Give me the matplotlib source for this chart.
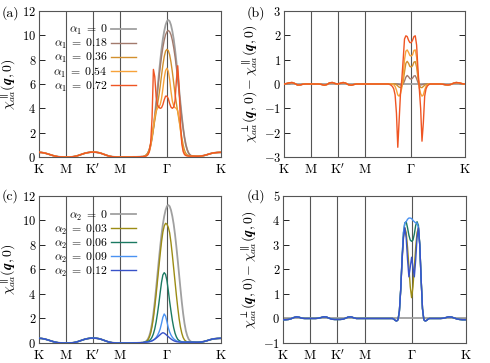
import numpy as np
import matplotlib
matplotlib.use("Agg")
import matplotlib.pyplot as plt

plt.rcParams['font.family'] = 'serif'
plt.rcParams['font.serif'] = ['cmr10', 'DejaVu Serif']
plt.rcParams['mathtext.fontset'] = 'cm'
plt.rcParams['axes.formatter.use_mathtext'] = True
plt.rcParams['font.size'] = 8

# high-symmetry path K-M-K'-M-Gamma-K (|Gamma K| = 1)
path_ticks = [0.0, 0.5, 1.0, 1.5, 2.366, 3.366]
path_labels = [r'$\mathrm{K}$', r'$\mathrm{M}$', r"$\mathrm{K}'$", r'$\mathrm{M}$', r'$\Gamma$', r'$\mathrm{K}$']
gamma = 2.366

# sampling: left part, peak part (offset from Gamma), right part
x_left = np.arange(0, 1.9001, 0.05)
d_peak = np.arange(-0.45, 0.4501, 0.025)
x_right = np.array([2.85, 2.9, 2.95, 3.0, 3.05, 3.1, 3.15, 3.2, 3.25, 3.3, 3.35, 3.366])

# ---- chi parallel, away from Gamma (all curves nearly equal)
par_left = [0.38, 0.37, 0.33, 0.27, 0.2, 0.13, 0.07, 0.03, 0.01, 0.0, 0.0, 0.0, 0.01, 0.04, 0.09,
            0.16, 0.24, 0.31, 0.36, 0.39, 0.4, 0.39, 0.36, 0.3, 0.22, 0.14, 0.07, 0.03, 0.01, 0.0,
            0.0, 0.0, 0.0, 0.0, 0.0, 0.01, 0.01, 0.02, 0.03]
par_right = [0.07, 0.06, 0.06, 0.08, 0.12, 0.18, 0.25, 0.31, 0.35, 0.37, 0.38, 0.38]

# ---- chi parallel near Gamma, d = -0.45 ... 0.45
par_a1_000 = [0.03, 0.05, 0.1, 0.18, 0.33, 0.6, 1.0, 1.6, 2.4, 3.35, 4.45, 5.6, 6.75, 7.85, 8.85, 9.7,
              10.35, 10.85, 11.16, 11.26, 11.16, 10.85, 10.35, 9.7, 8.85, 7.85, 6.75, 5.6, 4.45, 3.35,
              2.4, 1.6, 1.0, 0.6, 0.33, 0.18, 0.1]
par_a1_018 = [0.03, 0.05, 0.1, 0.18, 0.33, 0.6, 1.0, 1.6, 2.35, 3.25, 4.25, 5.3, 6.35, 7.35, 8.25, 9.0,
              9.6, 10.05, 10.3, 10.4, 10.3, 10.05, 9.6, 9.0, 8.25, 7.35, 6.35, 5.3, 4.25, 3.25, 2.35,
              1.6, 1.0, 0.6, 0.33, 0.18, 0.1]
par_a1_036 = [0.03, 0.05, 0.1, 0.2, 0.35, 0.65, 1.1, 1.7, 2.35, 3.0, 3.65, 4.3, 5.0, 5.8, 6.7, 7.55,
              8.25, 8.7, 8.85, 8.75, 8.4, 7.8, 7.0, 6.1, 5.2, 4.4, 3.7, 3.0, 2.3, 1.6, 1.0, 0.55, 0.3,
              0.18, 0.12, 0.09, 0.08]
par_a1_054 = [0.03, 0.05, 0.08, 0.12, 0.22, 0.45, 0.9, 1.6, 2.5, 3.3, 3.8, 4.0, 4.1, 4.3, 4.8, 5.6,
              6.5, 7.1, 7.3, 7.05, 6.4, 5.4, 4.6, 4.2, 4.05, 4.0, 3.8, 3.2, 2.2, 1.3, 0.65, 0.3, 0.15,
              0.1, 0.08, 0.07, 0.07]
par_a1_072 = [0.03, 0.04, 0.06, 0.1, 0.2, 0.45, 1.2, 3.2, 7.2, 6.6, 5.0, 4.3, 4.1, 4.0, 4.05, 4.3,
              4.7, 5.0, 5.0, 4.8, 4.4, 4.1, 4.0, 4.1, 4.6, 6.3, 7.5, 5.8, 2.8, 1.1, 0.45, 0.2, 0.12,
              0.09, 0.08, 0.07, 0.07]

# ---- chi perp - chi parallel (alpha_1), away from Gamma
dif1_left = [0.0, 0.02, 0.05, 0.06, 0.02, -0.04, -0.04, -0.01, 0.0, 0.0, 0.0, 0.0, 0.0, 0.0, -0.02,
             -0.05, -0.02, 0.05, 0.06, 0.02, 0.0, 0.03, 0.06, 0.03, -0.03, -0.05, -0.02, 0.0, 0.0,
             0.0, 0.0, 0.0, 0.0, 0.0, 0.0, 0.0, 0.0, 0.0, 0.0]
dif1_right = [0.0, 0.0, -0.01, -0.03, -0.04, -0.02, 0.03, 0.06, 0.05, 0.02, 0.0, 0.0]

# ---- chi perp - chi parallel (alpha_1) near Gamma
dif_a1_000 = [0.0] * 37
dif_a1_018 = [0.0, 0.0, 0.0, 0.0, 0.0, 0.0, 0.0, 0.0, 0.0, -0.02, -0.04, -0.04, 0.0, 0.12, 0.28,
              0.35, 0.3, 0.22, 0.2, 0.24, 0.33, 0.34, 0.22, 0.06, -0.02, -0.04, -0.03, -0.01, 0.0,
              0.0, 0.0, 0.0, 0.0, 0.0, 0.0, 0.0, 0.0]
dif_a1_036 = [0.0, 0.0, 0.0, 0.0, 0.0, 0.0, 0.0, -0.03, -0.08, -0.13, -0.15, -0.1, 0.1, 0.5, 0.85,
              0.93, 0.85, 0.72, 0.7, 0.75, 0.9, 0.92, 0.7, 0.25, -0.05, -0.14, -0.15, -0.1, -0.05,
              -0.02, 0.0, 0.0, 0.0, 0.0, 0.0, 0.0, 0.0]
dif_a1_054 = [0.0, 0.0, 0.0, 0.0, 0.0, -0.03, -0.1, -0.25, -0.45, -0.5, -0.4, -0.15, 0.3, 1.0, 1.35,
              1.4, 1.3, 1.17, 1.15, 1.2, 1.38, 1.4, 1.1, 0.4, -0.15, -0.4, -0.5, -0.45, -0.25, -0.1,
              -0.03, 0.0, 0.0, 0.0, 0.0, 0.0, 0.0]
dif_a1_072 = [0.0, 0.0, -0.02, -0.05, -0.1, -0.2, -0.45, -1.2, -2.6, -1.5, -0.4, 0.2, 1.0, 1.85,
              1.98, 1.95, 1.8, 1.7, 1.7, 1.8, 1.95, 1.98, 1.6, 0.6, -0.2, -1.0, -2.35, -1.6, -0.5,
              -0.2, -0.08, -0.03, 0.0, 0.0, 0.0, 0.0, 0.0]

# ---- chi parallel (alpha_2) near Gamma
par_a2_003 = [0.03, 0.05, 0.09, 0.15, 0.27, 0.48, 0.82, 1.35, 2.05, 2.95, 3.95, 5.05, 6.15, 7.25,
              8.25, 9.05, 9.55, 9.77, 9.7, 9.45, 9.0, 8.2, 7.2, 6.1, 5.0, 3.9, 2.9, 2.0, 1.3, 0.8,
              0.45, 0.25, 0.15, 0.1, 0.08, 0.07, 0.07]
par_a2_006 = [0.03, 0.05, 0.08, 0.1, 0.14, 0.2, 0.3, 0.48, 0.75, 1.15, 1.7, 2.4, 3.2, 4.1, 4.95,
              5.55, 5.74, 5.6, 5.1, 4.3, 3.4, 2.6, 1.85, 1.25, 0.8, 0.5, 0.3, 0.2, 0.14, 0.1, 0.08,
              0.07, 0.07, 0.07, 0.07, 0.07, 0.07]
par_a2_009 = [0.03, 0.05, 0.07, 0.08, 0.09, 0.11, 0.14, 0.18, 0.24, 0.33, 0.45, 0.62, 0.85, 1.15,
              1.6, 2.1, 2.37, 2.2, 1.75, 1.25, 0.9, 0.65, 0.47, 0.34, 0.25, 0.18, 0.14, 0.11, 0.09,
              0.08, 0.07, 0.07, 0.07, 0.07, 0.07, 0.07, 0.07]
par_a2_012 = [0.03, 0.05, 0.07, 0.08, 0.09, 0.11, 0.14, 0.18, 0.24, 0.31, 0.39, 0.48, 0.58, 0.68,
              0.78, 0.84, 0.8, 0.72, 0.62, 0.52, 0.42, 0.33, 0.25, 0.19, 0.14, 0.11, 0.09, 0.08,
              0.07, 0.07, 0.07, 0.07, 0.07, 0.07, 0.07, 0.07, 0.07]

# ---- chi perp - chi parallel (alpha_2), away from Gamma
dif2_left = [-0.05, -0.05, -0.04, -0.01, 0.04, 0.07, 0.05, 0.01, 0.0, 0.0, 0.0, 0.0, 0.0, 0.01,
             0.04, 0.07, 0.06, 0.01, -0.03, -0.04, -0.04, -0.04, -0.03, 0.01, 0.06, 0.07, 0.03,
             0.0, 0.0, 0.0, 0.0, 0.0, 0.0, 0.0, 0.0, 0.0, 0.0, 0.0, 0.0]
dif2_right = [0.0, 0.0, 0.01, 0.04, 0.07, 0.06, 0.02, -0.02, -0.04, -0.05, -0.05, -0.05]

# ---- chi perp - chi parallel (alpha_2) near Gamma
dif_a2_000 = [0.0] * 37
dif_a2_003 = [0.0, 0.0, 0.0, 0.0, 0.0, -0.03, -0.08, -0.1, -0.05, 0.3, 1.2, 2.4, 3.3, 3.7, 3.5,
              2.9, 2.1, 1.3, 0.85, 1.3, 2.1, 2.9, 3.5, 3.7, 3.0, 1.6, 0.4, -0.05, -0.1, -0.08, -0.03,
              0.0, 0.0, 0.0, 0.0, 0.0, 0.0]
dif_a2_006 = [0.0, 0.0, 0.0, 0.0, 0.0, -0.03, -0.08, -0.1, -0.05, 0.3, 1.2, 2.5, 3.5, 3.9, 3.95,
              3.7, 3.4, 3.2, 3.15, 3.2, 3.45, 3.8, 3.95, 3.8, 3.0, 1.6, 0.4, -0.05, -0.1, -0.08,
              -0.03, 0.0, 0.0, 0.0, 0.0, 0.0, 0.0]
dif_a2_009 = [0.0, 0.0, 0.0, 0.0, 0.0, -0.03, -0.08, -0.1, -0.05, 0.3, 1.2, 2.5, 3.5, 3.9, 3.95,
              4.05, 4.1, 4.1, 4.08, 4.0, 3.95, 3.9, 3.9, 3.7, 3.0, 1.6, 0.4, -0.05, -0.1, -0.08,
              -0.03, 0.0, 0.0, 0.0, 0.0, 0.0, 0.0]
dif_a2_012 = [0.0, 0.0, 0.0, 0.0, 0.0, -0.03, -0.08, -0.1, -0.05, 0.3, 1.2, 2.4, 3.3, 3.7, 3.3,
              2.4, 1.7, 2.1, 2.5, 2.1, 1.7, 2.4, 3.3, 3.7, 3.0, 1.6, 0.4, -0.05, -0.1, -0.08, -0.03,
              0.0, 0.0, 0.0, 0.0, 0.0, 0.0]

alpha1 = ['0', '0.18', '0.36', '0.54', '0.72']
alpha2 = ['0', '0.03', '0.06', '0.09', '0.12']
colors1 = ['#a0a0a0', '#a27a6c', '#d2902e', '#f7a33a', '#ef5523']
colors2 = ['#a0a0a0', '#9c8c14', '#1b7a62', '#4a92f2', '#3852c8']

x_all = np.concatenate([x_left, gamma + d_peak, x_right])


def full(left, peak, right):
    return np.concatenate([left, peak, right])


fig = plt.figure(figsize=(4.9, 3.63), dpi=100)
ax_a = fig.add_axes([0.0796, 0.5675, 0.3714, 0.4022])
ax_b = fig.add_axes([0.5796, 0.5675, 0.3694, 0.4022])
ax_c = fig.add_axes([0.0796, 0.0551, 0.3714, 0.4050])
ax_d = fig.add_axes([0.5775, 0.0551, 0.3735, 0.4050])

lab_par = r'$\chi^{\parallel}_{aa}(\boldsymbol{q},0)$'
lab_dif = r'$\chi^{\perp}_{aa}(\boldsymbol{q},0)-\chi^{\parallel}_{aa}(\boldsymbol{q},0)$'

panels = [
    (ax_a, [par_a1_000, par_a1_018, par_a1_036, par_a1_054, par_a1_072], par_left, par_right,
     colors1, r'$\alpha_1\;=\;%s$', alpha1, (0, 12), 2, lab_par),
    (ax_b, [dif_a1_000, dif_a1_018, dif_a1_036, dif_a1_054, dif_a1_072], dif1_left, dif1_right,
     colors1, r'$\alpha_1\;=\;%s$', alpha1, (-3, 3), 1, lab_dif),
    (ax_c, [par_a1_000, par_a2_003, par_a2_006, par_a2_009, par_a2_012], par_left, par_right,
     colors2, r'$\alpha_2\;=\;%s$', alpha2, (0, 12), 2, lab_par),
    (ax_d, [dif_a2_000, dif_a2_003, dif_a2_006, dif_a2_009, dif_a2_012], dif2_left, dif2_right,
     colors2, r'$\alpha_2\;=\;%s$', alpha2, (-1, 5), 1, lab_dif),
]

for ax, series, left, right, cols, fmt, alphas, ylim, step, ylabel in panels:
    for xv in path_ticks[1:-1]:
        ax.axvline(xv, color='#555555', lw=0.8, zorder=1)
    for i, peak in enumerate(series):
        if i == 0 and ylim[0] < 0:
            y = full([0.0] * len(left), peak, [0.0] * len(right))
        else:
            y = full(left, peak, right)
        ax.plot(x_all, y, color=cols[i], lw=1.3 if i == 0 else 1.0, label=fmt % alphas[i], zorder=2 + i)
    ax.set_xlim(0, path_ticks[-1])
    ax.set_ylim(*ylim)
    ax.set_yticks(np.arange(ylim[0], ylim[1] + 0.1, step))
    ax.set_xticks(path_ticks)
    ax.set_xticklabels(path_labels, fontsize=9.5)
    ax.tick_params(axis='x', length=0, pad=4)
    ax.tick_params(axis='y', direction='in', right=True, length=4, width=0.6, labelsize=9, pad=2)
    for s in ax.spines.values():
        s.set_color('#555555')
        s.set_linewidth(0.8)
    ax.set_ylabel(ylabel, fontsize=10, labelpad=3)

fig.text(2 / 490, 1 - 13 / 363, '(a)', fontsize=10, va='center', ha='left')
fig.text(247 / 490, 1 - 13 / 363, '(b)', fontsize=10, va='center', ha='left')
fig.text(2 / 490, 1 - 196 / 363, '(c)', fontsize=10, va='center', ha='left')
fig.text(247 / 490, 1 - 196 / 363, '(d)', fontsize=10, va='center', ha='left')

for ax in (ax_a, ax_c):
    ax.legend(loc='upper right', bbox_to_anchor=(0.565, 0.955), markerfirst=False, frameon=False,
              fontsize=8.5, handlelength=2.1, handletextpad=0.3, labelspacing=0.0, borderpad=0)

fig.savefig('out.png', dpi=100)
